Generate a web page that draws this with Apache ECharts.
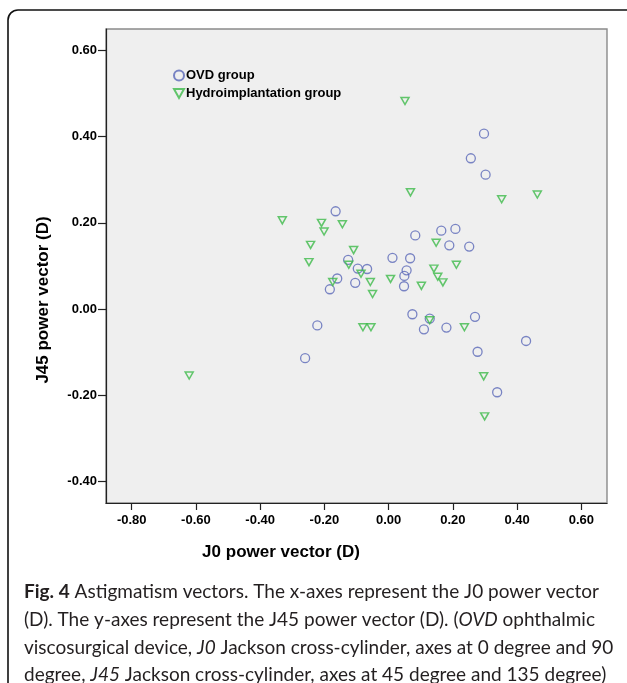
<!DOCTYPE html>
<html>
<head>
<meta charset="utf-8">
<script src="https://cdn.jsdelivr.net/npm/echarts@6/dist/echarts.min.js"></script>
<style>
html, body { margin: 0; padding: 0; background: #fff; }
#chart { width: 627px; height: 683px; }
</style>
</head>
<body>
<div id="chart"></div>
<script>
// power vectors (D)
var ovdJ0 = [-0.165, -0.126, -0.160, -0.183, -0.222, -0.260, 0.297, 0.256, 0.302, 0.083,
  0.164, 0.208, 0.189, 0.251, 0.012, 0.067, -0.096, -0.067, 0.056, 0.049,
  -0.104, 0.048, 0.074, 0.128, 0.110, 0.180, 0.269, 0.428, 0.277, 0.338];
var ovdJ45 = [0.227, 0.114, 0.071, 0.046, -0.038, -0.114, 0.407, 0.350, 0.312, 0.171,
  0.182, 0.186, 0.148, 0.145, 0.119, 0.118, 0.094, 0.093, 0.090, 0.077,
  0.061, 0.053, -0.012, -0.022, -0.047, -0.043, -0.018, -0.074, -0.099, -0.193];
var hydroJ0 = [-0.331, -0.209, -0.144, -0.201, -0.243, -0.248, -0.174, -0.124, 0.051, 0.068,
  0.352, 0.463, -0.109, -0.086, -0.057, 0.006, -0.050, 0.102, 0.148, 0.211,
  0.141, 0.153, 0.169, -0.080, -0.055, 0.128, 0.236, -0.621, 0.296, 0.299];
var hydroJ45 = [0.206, 0.200, 0.197, 0.180, 0.149, 0.109, 0.063, 0.103, 0.483, 0.271,
  0.255, 0.266, 0.137, 0.082, 0.063, 0.070, 0.035, 0.054, 0.154, 0.103,
  0.094, 0.075, 0.062, -0.042, -0.042, -0.026, -0.042, -0.154, -0.156, -0.249];
var seriesNames = ["OVD group", "Hydroimplantation group"];
var xTicks = [-0.8, -0.6, -0.4, -0.2, 0, 0.2, 0.4, 0.6];
var yTicks = [-0.4, -0.2, 0, 0.2, 0.4, 0.6];
var xTitle = "J0 power vector (D)";
var yTitle = "J45 power vector (D)";
var captionLines = [
  "{b|Fig. 4} Astigmatism vectors. The x-axes represent the J0 power vector",
  "(D). The y-axes represent the J45 power vector (D). ({i|OVD} ophthalmic",
  "viscosurgical device, {i|J0} Jackson cross-cylinder, axes at 0 degree and 90",
  "degree, {i|J45} Jackson cross-cylinder, axes at 45 degree and 135 degree)"
];

function pairs(xs, ys) {
  return xs.map(function (x, i) { return [x, ys[i]]; });
}

var axisFont = "Liberation Sans, Arial, sans-serif";
var capFont = "Lato, 'Open Sans', sans-serif";
var capSize = 19;
var capRich = {
  b: { fontWeight: "bold", fontSize: capSize, fontFamily: capFont, fill: "#231f20" },
  i: { fontStyle: "italic", fontSize: capSize, fontFamily: capFont, fill: "#231f20" }
};

var graphic = [
  {
    type: "rect",
    shape: { x: 8, y: 10, width: 640, height: 700, r: [10, 10, 0, 0] },
    style: { fill: "none", stroke: "#111", lineWidth: 1.6 },
    silent: true
  },
  {
    type: "text", x: 281, y: 552,
    style: { text: xTitle, font: "bold 17px " + axisFont, fill: "#000", align: "center", verticalAlign: "middle" }
  },
  {
    type: "text", x: 43, y: 300, rotation: Math.PI / 2,
    style: { text: yTitle, font: "bold 17px " + axisFont, fill: "#000", align: "center", verticalAlign: "middle" }
  }
];
var capY = [592, 620, 648, 675];
captionLines.forEach(function (line, i) {
  graphic.push({
    type: "text", x: 24, y: capY[i],
    style: {
      text: line, fontSize: capSize, fontFamily: capFont, fill: "#231f20",
      verticalAlign: "middle", rich: capRich
    }
  });
});

var tickFmt = function (v) { return v.toFixed(2); };

var chart = echarts.init(document.getElementById("chart"));
chart.setOption({
  animation: false,
  backgroundColor: "#fff",
  grid: {
    left: 106, top: 29, width: 501, height: 474,
    show: true, backgroundColor: "#efefef", borderColor: "#8a8a8a", borderWidth: 1.4
  },
  legend: {
    orient: "vertical", left: 173, top: 69, padding: 0,
    itemWidth: 10, itemHeight: 10, itemGap: 5,
    data: seriesNames,
    textStyle: { fontFamily: axisFont, fontWeight: "bold", fontSize: 13, color: "#000", padding: [0, 0, 0, -3] }
  },
  xAxis: {
    type: "value", min: -0.88, max: 0.68,
    splitLine: { show: false },
    axisLine: { show: true, onZero: false, lineStyle: { color: "#222", width: 1.2 } },
    axisTick: { show: true, length: 7, customValues: xTicks, lineStyle: { color: "#222", width: 1.2 } },
    axisLabel: {
      customValues: xTicks, formatter: tickFmt, margin: 11,
      fontFamily: axisFont, fontWeight: "bold", fontSize: 13, color: "#000"
    }
  },
  yAxis: {
    type: "value", min: -0.45, max: 0.65,
    splitLine: { show: false },
    axisLine: { show: true, onZero: false, lineStyle: { color: "#222", width: 1.2 } },
    axisTick: { show: true, length: 8, customValues: yTicks, lineStyle: { color: "#222", width: 1.2 } },
    axisLabel: {
      customValues: yTicks, formatter: tickFmt, margin: 9,
      fontFamily: axisFont, fontWeight: "bold", fontSize: 13, color: "#000"
    }
  },
  series: [
    {
      name: seriesNames[0], type: "scatter",
      symbol: "circle", symbolSize: 9,
      itemStyle: { color: "rgba(0,0,0,0)", borderColor: "#5a68b8", borderWidth: 1.3 },
      data: pairs(ovdJ0, ovdJ45)
    },
    {
      name: seriesNames[1], type: "scatter",
      symbol: "path://M0,0L10,0L5,9Z", symbolSize: [8, 7],
      itemStyle: { color: "rgba(0,0,0,0)", borderColor: "#3dba4a", borderWidth: 1.5 },
      data: pairs(hydroJ0, hydroJ45)
    }
  ],
  graphic: graphic
});
</script>
</body>
</html>
